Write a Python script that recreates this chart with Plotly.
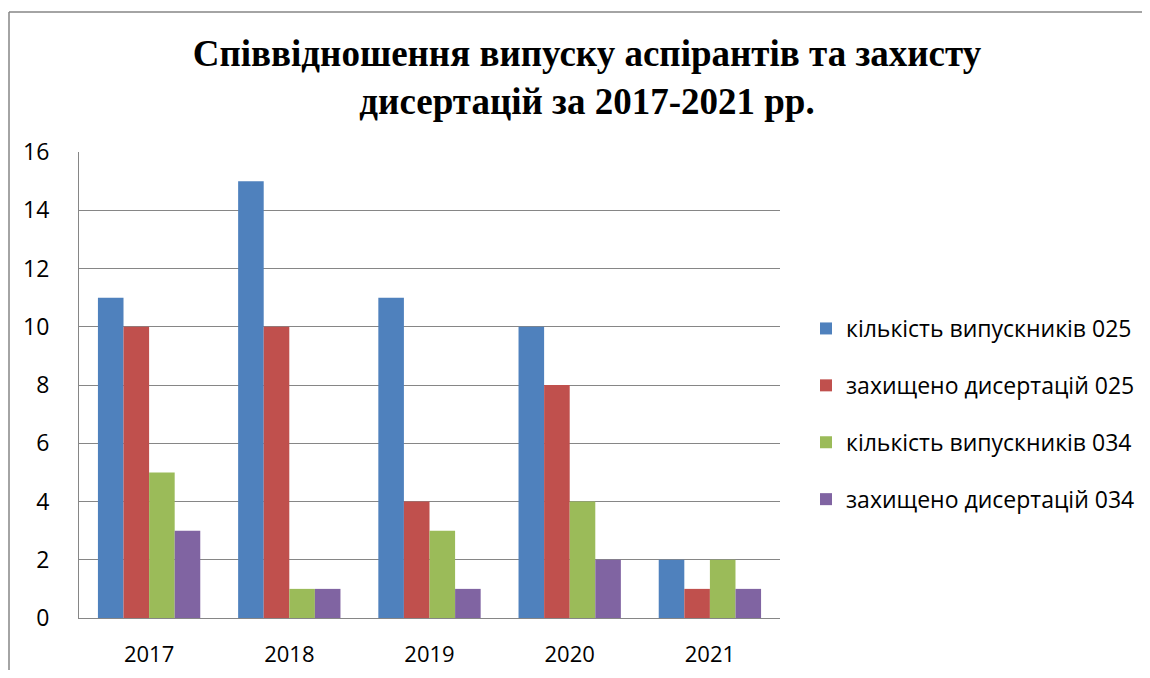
import plotly.graph_objects as go

years = ["2017", "2018", "2019", "2020", "2021"]
grad_025 = [11, 15, 11, 10, 2]
def_025 = [10, 10, 4, 8, 1]
grad_034 = [5, 1, 3, 4, 2]
def_034 = [3, 1, 1, 2, 1]

series = [
    ("кількість випускників 025", grad_025, "#4F81BD"),
    ("захищено дисертацій 025", def_025, "#C0504D"),
    ("кількість випускників 034", grad_034, "#9BBB59"),
    ("захищено дисертацій 034", def_034, "#8064A2"),
]

fig = go.Figure()
for i, (name, vals, col) in enumerate(series):
    fig.add_trace(go.Bar(x=years, y=vals, name=name, marker_color=col,
                         marker_line_width=0, legendgroup=f"g{i}"))

# page body has an 8px margin; figure sized to fit inside the window
W, H = 1134, 662
L, R, T, B = 71, 772, 144, 610
fig.update_layout(
    width=W, height=H,
    margin=dict(l=L, r=W - R, t=T, b=H - B, autoexpand=False),
    paper_bgcolor="white", plot_bgcolor="white",
    barmode="group", bargap=0.27, bargroupgap=0,
    font=dict(family="Open Sans, Liberation Sans, sans-serif", size=23, color="black"),
    title=dict(text="<b>Співвідношення випуску аспірантів та захисту<br>дисертацій за 2017-2021 рр.</b>",
               x=579 / W, xanchor="center", y=1 - 58 / H, yanchor="middle",
               font=dict(family="Liberation Serif, Times New Roman, serif", size=37, color="black")),
    legend=dict(x=(798 - L) / (R - L), xanchor="left", y=(B - 299) / (B - T), yanchor="top",
                traceorder="grouped", tracegroupgap=24,
                font=dict(size=23), itemwidth=30),
    showlegend=True,
)
fig.update_yaxes(range=[0, 16], dtick=2, showgrid=True, gridcolor="#868686", gridwidth=1,
                 showline=True, linecolor="#868686", linewidth=1, ticks="",
                 ticklabelstandoff=24, zeroline=False, automargin=False)
fig.update_xaxes(showline=True, linecolor="#868686", linewidth=1, ticks="",
                 ticklabelstandoff=17, automargin=False, tickfont=dict(size=22))

# outer chart frame (left and top edges visible)
fx0 = (1 - L) / (R - L)
fy1 = (B - 4) / (B - T)
fig.add_shape(type="line", xref="paper", yref="paper", x0=fx0, x1=fx0, y0=-0.3, y1=fy1,
              line=dict(color="#868686", width=1.5), layer="below")
fig.add_shape(type="line", xref="paper", yref="paper", x0=fx0, x1=1.6, y0=fy1, y1=fy1,
              line=dict(color="#868686", width=1.5), layer="below")

fig.write_html("out.html")
